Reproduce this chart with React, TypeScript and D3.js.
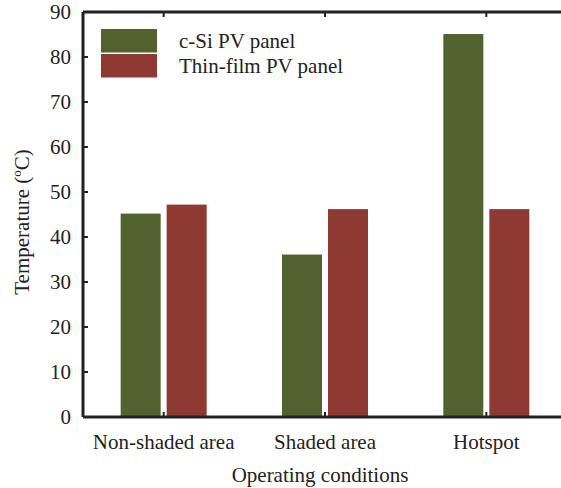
import React from "react";
import * as d3 from "d3";

const categories = ["Non-shaded area", "Shaded area", "Hotspot"];
const seriesNames = ["c-Si PV panel", "Thin-film PV panel"];
const cSiValues = [45.2, 36.1, 85.1];
const thinFilmValues = [47.2, 46.2, 46.2];
const yTicks = [0, 10, 20, 30, 40, 50, 60, 70, 80, 90];
const colors = ["#52622e", "#8e3a33"];

const W = 561;
const H = 488;
const left = 83;
const top = 12;
const bottom = 417;
const right = 567;

export default function App() {
  const y = d3.scaleLinear().domain([0, 90]).range([bottom, top]);
  const x = d3.scaleBand<string>().domain(categories).range([left, right]).paddingInner(0).paddingOuter(0);
  const step = x.bandwidth();
  const barW = 40;
  const gap = 6;
  const series = [cSiValues, thinFilmValues];
  const font = "Liberation Serif, Times New Roman, serif";
  const axisColor = "#222";
  const fs = 21;

  return (
    <svg width={W} height={H} style={{ position: "absolute", left: 0, top: 0, background: "#fff", fontFamily: font }}>
      {series.map((vals, si) =>
        vals.map((v, ci) => {
          const cx = (x(categories[ci]) as number) + step / 2;
          const x0 = si === 0 ? cx - gap / 2 - barW : cx + gap / 2;
          return (
            <rect key={`${si}-${ci}`} x={x0} y={y(v)} width={barW} height={bottom - y(v)} fill={colors[si]} />
          );
        })
      )}
      <line x1={left} x2={right} y1={bottom} y2={bottom} stroke={axisColor} strokeWidth={3} />
      <line x1={left} x2={right} y1={top} y2={top} stroke={axisColor} strokeWidth={3} />
      <line x1={left} x2={left} y1={top} y2={bottom} stroke={axisColor} strokeWidth={3} />
      {yTicks.map((t) => (
        <g key={t}>
          {t > 0 && t < 90 && <line x1={left} x2={left + 5} y1={y(t)} y2={y(t)} stroke={axisColor} strokeWidth={2} />}
          <text x={71} y={y(t)} dy="0.33em" textAnchor="end" fontSize={fs} fill="#222">
            {t}
          </text>
        </g>
      ))}
      {categories.map((c) => {
        const cx = (x(c) as number) + step / 2;
        return (
          <g key={c}>
            <line x1={cx} x2={cx} y1={bottom} y2={bottom - 5} stroke={axisColor} strokeWidth={2} />
            <line x1={cx} x2={cx} y1={top} y2={top + 5} stroke={axisColor} strokeWidth={2} />
            <text x={cx} y={449} textAnchor="middle" fontSize={fs} fill="#222">
              {c}
            </text>
          </g>
        );
      })}
      <text x={320} y={482} textAnchor="middle" fontSize={fs} fill="#222">
        Operating conditions
      </text>
      <text transform={`translate(29, 222) rotate(-90)`} textAnchor="middle" fontSize={fs} fill="#222">
        Temperature (<tspan fontSize={13} dy={-8}>o</tspan>
        <tspan dy={8}>C)</tspan>
      </text>
      {seriesNames.map((n, i) => (
        <g key={n}>
          <rect x={101} y={29 + i * 25} width={56} height={23.5} fill={colors[i]} />
          <text x={179} y={41 + i * 25} dy="0.33em" fontSize={fs} fill="#222">
            {n}
          </text>
        </g>
      ))}
    </svg>
  );
}
